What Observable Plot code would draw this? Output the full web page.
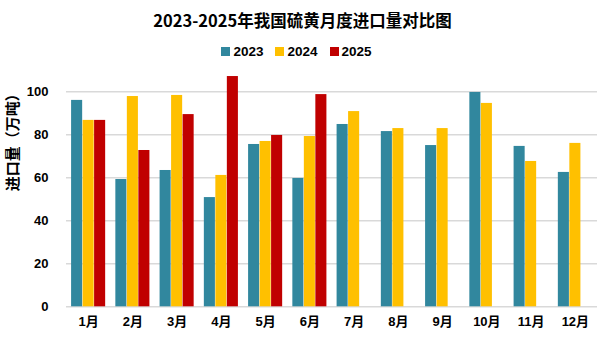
<!DOCTYPE html>
<html>
<head>
<meta charset="utf-8">
<script src="https://cdn.jsdelivr.net/npm/d3@7"></script>
<script src="https://cdn.jsdelivr.net/npm/@observablehq/plot@0.6"></script>
<style>
  html, body { margin: 0; padding: 0; background: #fff; }
  body { width: 605px; height: 340px; overflow: hidden; font-family: "Liberation Sans", "Noto Sans CJK SC", sans-serif; }
  #title { height: 38px; line-height: 40px; text-align: center; font-family: "Noto Sans CJK SC", sans-serif; font-weight: bold; font-size: 16.5px; color: #000; }
  #legend { height: 26px; display: flex; justify-content: center; align-items: center; }
  #legend > div { justify-content: center; margin: 0 !important; font-family: "Liberation Sans", sans-serif; font-weight: bold; font-size: 13.5px; color: #000; }
  #legend span svg { margin-right: 3px !important; }
  #legend span { margin-right: 12px !important; }
</style>
</head>
<body>
<div id="title">2023-2025年我国硫黄月度进口量对比图</div>
<div id="legend"></div>
<div id="chart"></div>
<script>
const months = ["1月","2月","3月","4月","5月","6月","7月","8月","9月","10月","11月","12月"];
const years = ["2023","2024","2025"];
const colors = ["#31879E","#FFC000","#C00000"];
const v2023 = [96.0,59.2,63.4,50.8,75.5,59.7,84.8,81.5,75.0,99.7,74.6,62.5];
const v2024 = [86.7,97.8,98.3,61.1,76.9,79.2,90.8,82.9,82.9,94.6,67.6,76.0];
const v2025 = [86.7,72.7,89.4,107.1,79.7,98.7];
const yTicks = [0,20,40,60,80,100];
const yLabel = "进口量（万吨）";

const series = [v2023, v2024, v2025];
const byYear = series.map((vals, i) => vals.map((v, j) => ({month: months[j], year: years[i], value: v})));
const barOffset = [-11.5, 0, 11.5];

document.getElementById("legend").append(
  Plot.legend({color: {domain: years, range: colors}, legend: "swatches", swatchSize: 9})
);

const chart = Plot.plot({
  width: 605,
  height: 276,
  marginTop: 27.3,
  marginBottom: 33.7,
  marginLeft: 66,
  marginRight: 8,
  style: {fontFamily: "'Liberation Sans','Noto Sans CJK SC',sans-serif", fontSize: "13px", fontWeight: "bold", color: "#000", background: "#fff"},
  x: {domain: months, paddingInner: 0.75, paddingOuter: 0.375, round: false, label: null},
  y: {domain: [0, 100]},
  color: {domain: years, range: colors},
  marks: [
    Plot.gridY(yTicks, {stroke: "#d9d9d9", strokeOpacity: 1, strokeWidth: 1.5}),
    ...byYear.map((d, i) => Plot.barY(d, {x: "month", y: "value", fill: "year", dx: barOffset[i]})),
    Plot.axisY(yTicks, {tickSize: 0, tickPadding: 18, label: null}),
    Plot.axisX({tickSize: 0, tickPadding: 10, label: null}),
    Plot.text([yLabel], {frameAnchor: "left", rotate: -90, dx: -53, dy: -8, fontSize: 15, fontFamily: "'Noto Sans CJK SC',sans-serif", fill: "#000"})
  ]
});
document.getElementById("chart").append(chart);
</script>
</body>
</html>
